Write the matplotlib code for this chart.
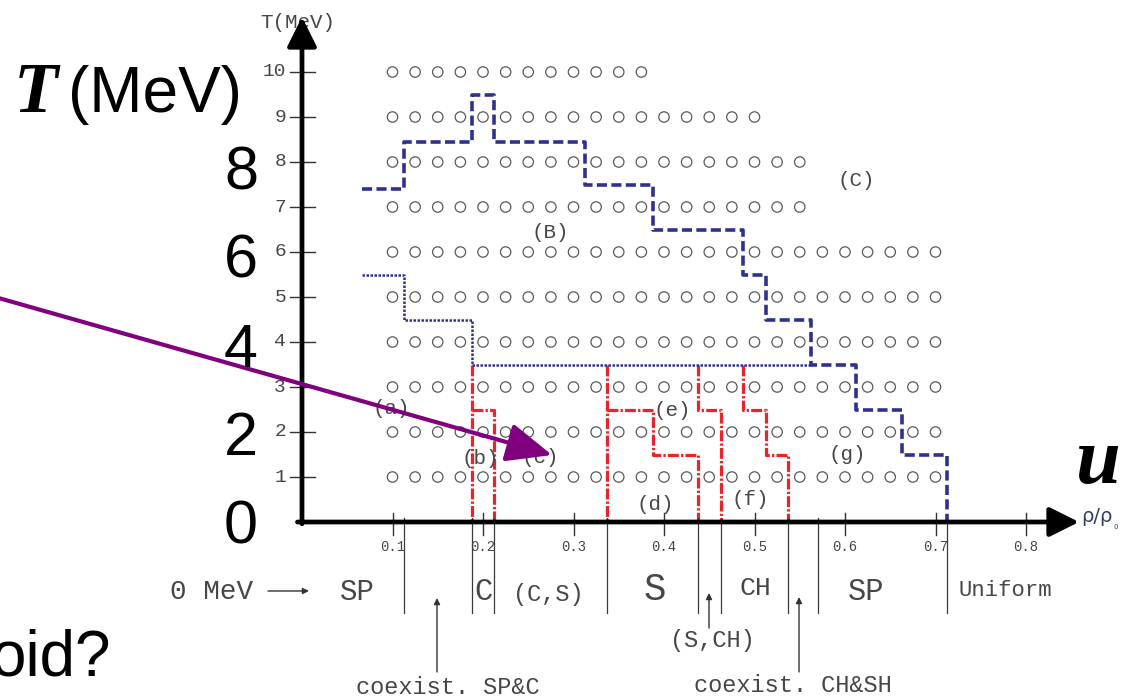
import numpy as np
import matplotlib.pyplot as plt

# ── canvas: one axes over the whole slide, data units = (u, T) ───────────────
W, H = 1121, 698
U0, US = 302, 905      # px = U0 + US*u
T0, TS = 522, 45       # py = T0 - TS*T

MONO = "Liberation Mono"
GREY = "#474747"
BLUE, RED, PURPLE = "#2e3192", "#ee2229", "#800080"

# ── data ─────────────────────────────────────────────────────────────────────
row_T = [1, 2, 3, 4, 5, 6, 7, 8, 9, 10]
row_n = [25, 25, 25, 25, 25, 25, 19, 19, 17, 12]     # circles per row
u_first, u_step = 0.1, 0.025

# upper boundary (B)/(C), dashed
bc_u = [0.066, 0.113, 0.1875, 0.2125, 0.3125, 0.3875, 0.4875, 0.5125,
        0.5625, 0.6125, 0.6625, 0.7125]
bc_T = [7.4, 8.45, 9.5, 8.45, 7.5, 6.5, 5.5, 4.5, 3.5, 2.5, 1.5, 0.0]
# lower boundary (a)/(B), dotted
ab_u = [0.066, 0.113, 0.1875, 0.5625]
ab_T = [5.5, 4.5, 3.5, 3.5]
# red dash-dot phase borders (vertices)
red_paths = [
    ([0.1875, 0.1875], [3.5, 0.0]),
    ([0.1875, 0.2125, 0.2125], [2.5, 2.5, 0.0]),
    ([0.3375, 0.3375], [3.5, 0.0]),
    ([0.3375, 0.3875, 0.3875, 0.4375, 0.4375], [2.5, 2.5, 1.5, 1.5, 0.0]),
    ([0.4375, 0.4375, 0.4625, 0.4625], [3.5, 2.5, 2.5, 0.0]),
    ([0.4875, 0.4875, 0.5125, 0.5125, 0.5375, 0.5375],
     [3.5, 2.5, 2.5, 1.5, 1.5, 0.0]),
]
phase_u = [0.113, 0.1875, 0.2125, 0.3375, 0.4375, 0.4625, 0.5375, 0.57, 0.7125]

region_lbl = ["(C)", "(B)", "(a)", "(b)", "(c)", "(e)", "(d)", "(f)", "(g)"]
region_u = [0.612, 0.274, 0.099, 0.197, 0.263, 0.409, 0.390, 0.495, 0.602]
region_T = [7.58, 6.44, 2.53, 1.42, 1.44, 2.47, 0.38, 0.49, 1.49]

xticks = [0.1, 0.2, 0.3, 0.4, 0.5, 0.6, 0.7, 0.8]
yticks = [1, 2, 3, 4, 5, 6, 7, 8, 9, 10]

phase_names = ["SP", "C", "(C,S)", "S", "CH", "SP", "Uniform"]
phase_px = [357, 483, 548, 655, 755, 866, 1005]
phase_py = [592, 592, 594, 590, 588, 592, 590]
phase_fs = [21, 22, 17, 27, 19, 22, 16]

big_T = [8, 6, 4, 2, 0]
big_T_py = [189, 278, 367, 455, 544]


def fig_xy(x, y):
    return x / W, 1 - y / H


def data_xy(x, y):
    return (x - U0) / US, (T0 - y) / TS


fig = plt.figure(figsize=(W / 100, H / 100), dpi=100)
ax = fig.add_axes([0, 0, 1, 1])
ax.set_xlim(-U0 / US, (W - U0) / US)
ax.set_ylim((T0 - H) / TS, T0 / TS)
ax.axis("off")

# ── lattice of calculated points ─────────────────────────────────────────────
for T, n in zip(row_T, row_n):
    uu = u_first + u_step * np.arange(n)
    ax.scatter(uu, np.full(n, T), s=56, facecolors="none",
               edgecolors="#5a5a5a", linewidths=0.9, zorder=2)

# ── phase boundaries ─────────────────────────────────────────────────────────
ax.step(bc_u, bc_T, where="post", color=BLUE, lw=2.6,
        ls=(0, (2.8, 1.2)), zorder=4)
ax.step(ab_u, ab_T, where="post", color=BLUE, lw=1.8,
        ls=(0, (1.0, 0.6)), zorder=4)
for uu, tt in red_paths:
    ax.plot(uu, tt, color=RED, lw=2.3, ls=(0, (3.4, 0.7, 0.7, 0.7)), zorder=3)

for lbl, u, t in zip(region_lbl, region_u, region_T):
    ax.text(u, t, lbl, family=MONO, fontsize=15, color=GREY,
            ha="center", va="center", zorder=5)

# ── axes with arrows ─────────────────────────────────────────────────────────
ax.annotate("", xy=data_xy(1079, T0), xytext=(-0.005, 0),
            arrowprops=dict(arrowstyle="-|>,head_length=0.9,head_width=0.45",
                            lw=3.4, color="k", mutation_scale=20,
                            shrinkA=0, shrinkB=0), zorder=6)
ax.annotate("", xy=data_xy(U0, 17), xytext=(0, -0.04),
            arrowprops=dict(arrowstyle="-|>,head_length=0.9,head_width=0.45",
                            lw=3.4, color="k", mutation_scale=20,
                            shrinkA=0, shrinkB=0), zorder=6)

tick_h = 12 / US
for t in yticks:
    ax.plot([-tick_h, 13 / US], [t, t], color="#333333", lw=1.0, zorder=5)
    ax.text(-16 / US, t, str(t), family=MONO, fontsize=14, color=GREY,
            ha="right", va="center")
for u in xticks:
    ax.plot([u, u], [0.2, -0.29], color="#333333", lw=1.0, zorder=5)
    ax.text(u, -0.55, f"{u:.1f}", family=MONO, fontsize=10, color=GREY,
            ha="center", va="center")
for u in phase_u:
    ax.plot([u, u], [0.1, -2.02], color="#3a3a3a", lw=0.9, zorder=5)

ax.text(*data_xy(298, 22), "T(MeV)", family=MONO, fontsize=15, color=GREY,
        ha="center", va="center")
ax.text(*data_xy(1081, 517), "ρ/ρ", family="DejaVu Sans", fontsize=14,
        color="#334060", ha="left", va="center")
ax.text(*data_xy(1114, 527), "0", family="DejaVu Sans", fontsize=5,
        color="#334060", ha="left", va="center")

# ── phase names below the axis ───────────────────────────────────────────────
fig.text(*fig_xy(212, 592), "0 MeV", family=MONO, fontsize=20, color=GREY,
         ha="center", va="center")
ax.annotate("", xy=data_xy(309, 591), xytext=data_xy(268, 591),
            arrowprops=dict(arrowstyle="-|>", lw=1.0, color="#333333",
                            mutation_scale=9, shrinkA=0, shrinkB=0))
for name, x, y, fs in zip(phase_names, phase_px, phase_py, phase_fs):
    fig.text(*fig_xy(x, y), name, family=MONO, fontsize=fs, color=GREY,
             ha="center", va="center")

notes = [("coexist. SP&C", 448, 688, 437, 672, 598),
         ("(S,CH)", 712, 640, 709, 628, 593),
         ("coexist. CH&SH", 793, 685, 799, 672, 597)]
for txt, x, y, ax_x, y0, y1 in notes:
    fig.text(*fig_xy(x, y), txt, family=MONO, fontsize=17, color=GREY,
             ha="center", va="center")
    ax.annotate("", xy=data_xy(ax_x, y1), xytext=data_xy(ax_x, y0),
                arrowprops=dict(arrowstyle="-|>", lw=1.0, color="#333333",
                                mutation_scale=9, shrinkA=0, shrinkB=0))

# ── slide overlay ────────────────────────────────────────────────────────────
fig.text(*fig_xy(14, 112), "T", family="Liberation Serif", fontsize=52,
         weight="bold", style="italic", ha="left", va="baseline")
fig.text(*fig_xy(68, 112), "(MeV)", family="Liberation Sans", fontsize=46,
         ha="left", va="baseline")
for v, y in zip(big_T, big_T_py):
    fig.text(*fig_xy(241, y), str(v), family="Liberation Sans", fontsize=44,
             ha="center", va="baseline")
fig.text(*fig_xy(1075, 483), "u", family="Liberation Serif", fontsize=58,
         weight="bold", style="italic", ha="left", va="baseline")
# slide text that runs off the left edge in the original
fig.text(*fig_xy(-10, 676), "oid?", family="Liberation Sans", fontsize=46,
         ha="left", va="baseline")

ax.annotate("", xy=data_xy(552, 455), xytext=data_xy(-5, 297),
            arrowprops=dict(arrowstyle="-|>,head_length=1.4,head_width=0.6",
                            lw=3.0, color=PURPLE, mutation_scale=20,
                            shrinkA=0, shrinkB=0), zorder=7)

fig.savefig("out.png", dpi=100)
